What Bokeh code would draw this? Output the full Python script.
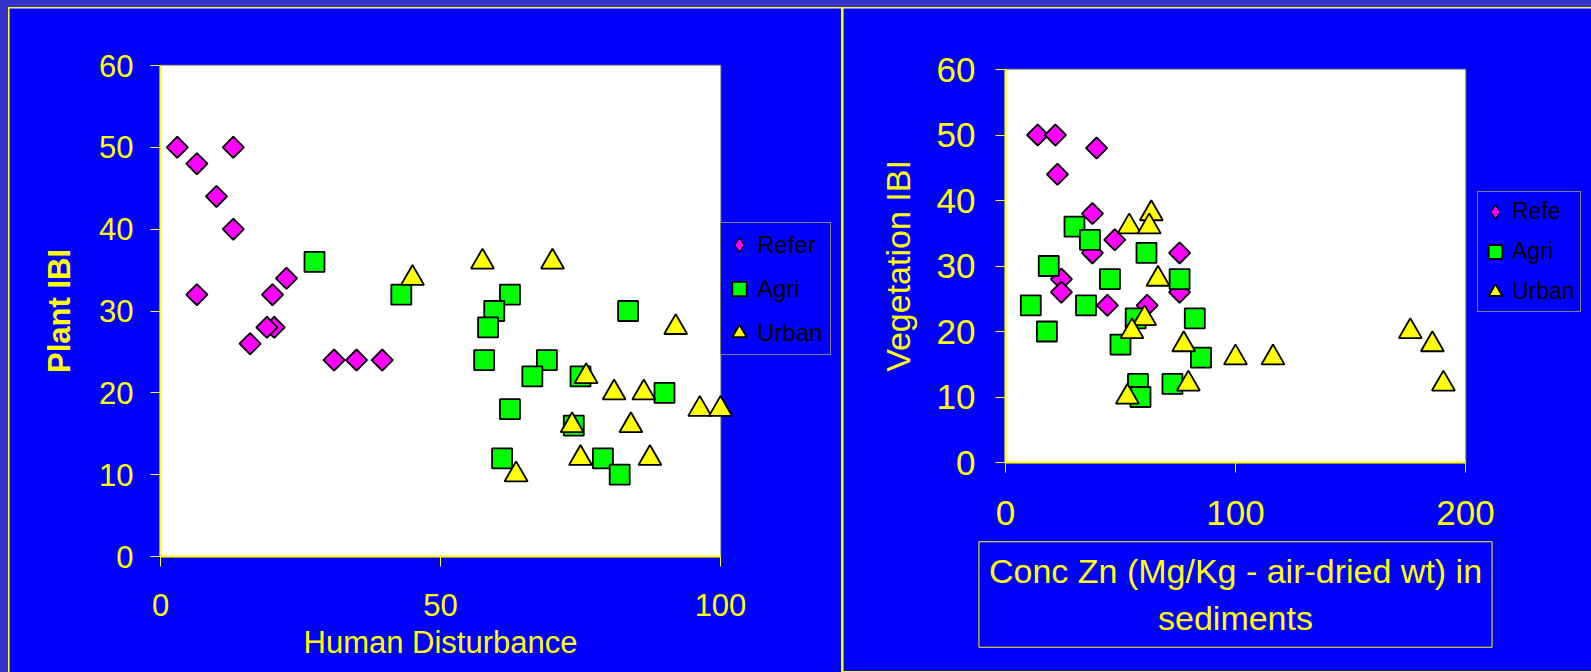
import numpy as np
from bokeh.plotting import figure
from bokeh.models import (Range1d, FixedTicker, Legend, LegendItem, Label, Spacer,
                          BoxAnnotation, LinearAxis)
from bokeh.layouts import row, column
from bokeh.embed import file_html
from bokeh.resources import INLINE

# ---------------- data ----------------
# Left panel: Plant IBI vs Human Disturbance
refer_x1 = [3, 13, 6.5, 10, 13, 6.5, 22.5, 20, 20.3, 19, 16, 31, 35, 39.6]
refer_y1 = [50, 50, 48, 44, 40, 32, 34, 32, 28, 28, 26, 24, 24, 24]
agri_x1 = [27.5, 43, 62.4, 59.6, 58.5, 57.8, 69, 66.4, 62.4, 61, 83.5, 75, 90, 73.8, 79, 82]
agri_y1 = [36, 32, 32, 30, 28, 24, 24, 22, 18, 12, 30, 22, 20, 16, 12, 10]
urban_x1 = [45, 57.5, 70, 63.5, 92, 76, 81, 86.3, 96.3, 100, 73.5, 84, 75, 87.4]
urban_y1 = [34, 36, 36, 10, 28, 22, 20, 20, 18, 18, 16, 16, 12, 12]

# Right panel: Vegetation IBI vs Conc Zn
refer_x2 = [14, 21.7, 39.6, 22.6, 37.8, 47.5, 37.8, 75.7, 24.3, 24.3, 44.3, 61.6, 75.7]
refer_y2 = [50, 50, 48, 44, 38, 34, 32, 32, 28, 26, 24, 24, 26]
agri_x2 = [30, 36.7, 61.3, 18.8, 45.4, 75.7, 11, 35, 56.6, 82.3, 18, 50, 85, 57.6, 58.7, 72.6]
agri_y2 = [36, 34, 32, 30, 28, 28, 24, 24, 22, 22, 20, 18, 16, 12, 10, 12]
urban_x2 = [53.8, 63.4, 62.5, 66.3, 60.5, 55, 77.5, 100, 79.5, 53, 116.3, 176, 185.6, 190.4]
urban_y2 = [36, 38, 36, 28, 22, 20, 18, 16, 12, 10, 16, 20, 18, 12]

x_limits1 = (0, 100)
x_limits2 = (0, 200)
y_limits = (0, 60)
x_ticks1 = [0, 50, 100]
x_ticks2 = [0, 100, 200]
y_ticks = [0, 10, 20, 30, 40, 50, 60]

labels1 = ["Refer", "Agri", "Urban"]
labels2 = ["Refe", "Agri", "Urban"]

# ---------------- style ----------------
BLUE = "#0000FF"
FRAME = "#3333CC"
YELLOW = "#FFFF00"
MAGENTA = "#FF00FF"
GREEN = "#00FF00"
FONT = "Liberation Sans"


def make_fig(w, h, xlim, px0, px1, py_top, py_bot, xticks, tick_fs, xstand, ystand):
    """Figure whose frame fills the whole canvas; the plot area [xlim]x[ylim]
    maps onto the pixel box (px0..px1, py_top..py_bot)."""
    x0, x1 = xlim
    y0, y1 = y_limits
    sx = (px1 - px0) / (x1 - x0)
    sy = (py_bot - py_top) / (y1 - y0)
    xr = Range1d(x0 - px0 / sx, x1 + (w - px1) / sx)
    yr = Range1d(y0 - (h - py_bot) / sy, y1 + py_top / sy)
    p = figure(width=w, height=h, x_range=xr, y_range=yr,
               output_backend="svg", toolbar_location=None, title=None,
               x_axis_location=None, y_axis_location=None,
               min_border=0, min_border_left=0, min_border_right=0,
               min_border_top=0, min_border_bottom=0)
    p.background_fill_color = BLUE
    p.border_fill_color = BLUE
    p.outline_line_color = None
    p.grid.visible = False

    area = BoxAnnotation(left=x0, right=x1, bottom=y0, top=y1,
                         fill_color="white", fill_alpha=1.0,
                         line_color=YELLOW, line_width=2, level="underlay")
    p.add_layout(area)

    xa = LinearAxis(ticker=FixedTicker(ticks=xticks), fixed_location=y0, bounds=(x0, x1))
    ya = LinearAxis(ticker=FixedTicker(ticks=y_ticks), fixed_location=x0, bounds=(y0, y1))
    for ax, st in ((xa, xstand), (ya, ystand)):
        ax.axis_line_color = YELLOW
        ax.axis_line_width = 2
        ax.major_tick_line_color = YELLOW
        ax.major_tick_line_width = 1
        ax.major_tick_in = 0
        ax.major_tick_out = 10
        ax.minor_tick_line_color = None
        ax.major_label_text_color = YELLOW
        ax.major_label_text_font = FONT
        ax.major_label_text_font_size = tick_fs
        ax.major_label_standoff = st
        ax.axis_label_text_color = YELLOW
        ax.axis_label_text_font = FONT
        ax.axis_label_text_font_style = "normal"
    p.add_layout(xa, "below")
    p.add_layout(ya, "left")
    return p, xa, ya


def add_series(p, xs, ys):
    # legend-only diamond (tiny, hidden under the real diamonds)
    rl = p.scatter(xs[0], ys[0], marker="diamond", size=1,
                   fill_color=MAGENTA, line_color="black", line_width=1.2)
    r1 = p.scatter(xs[0], ys[0], marker="square", angle=np.pi / 4, size=15,
                   fill_color=MAGENTA, line_color="black", line_width=1.8)
    r2 = p.scatter(xs[1], ys[1], marker="square", size=20,
                   fill_color=GREEN, line_color="black", line_width=1.8)
    r3 = p.scatter(xs[2], ys[2], marker="triangle", size=23,
                   fill_color=YELLOW, line_color="black", line_width=1.8)
    return [rl, r2, r3]


# ---------------- left panel (page x 9..841, y 8..672) ----------------
p1, xa1, ya1 = make_fig(832, 664, x_limits1, 151, 711, 57, 548, x_ticks1, "31px", 27, 17)
xa1.axis_label = "Human Disturbance"
xa1.axis_label_text_font_size = "31px"
xa1.axis_label_standoff = 6
ya1.axis_label = "Plant IBI"
ya1.axis_label_text_font_size = "31px"
ya1.axis_label_text_font_style = "bold"
ya1.axis_label_standoff = 19
rs1 = add_series(p1, [refer_x1, agri_x1, urban_x1], [refer_y1, agri_y1, urban_y1])

leg1 = Legend(items=[LegendItem(label=l, renderers=[r]) for l, r in zip(labels1, rs1)],
              location=(711, 317), margin=0, padding=0, spacing=1,
              glyph_width=36, glyph_height=43, label_standoff=0, label_width=73,
              label_text_font=FONT, label_text_font_size="24px", label_text_color="black",
              background_fill_color=BLUE, background_fill_alpha=1.0,
              border_line_color=YELLOW, border_line_width=1)
p1.add_layout(leg1)

# ---------------- right panel (page x 843..1591, y 8..671) ----------------
p2, xa2, ya2 = make_fig(748, 663, x_limits2, 162, 622, 61, 454, x_ticks2, "35px", 28, 20)
ya2.axis_label = "Vegetation IBI"
ya2.axis_label_text_font_size = "34px"
ya2.axis_label_standoff = 17
rs2 = add_series(p2, [refer_x2, agri_x2, urban_x2], [refer_y2, agri_y2, urban_y2])

leg2 = Legend(items=[LegendItem(label=l, renderers=[r]) for l, r in zip(labels2, rs2)],
              location=(634, 359), margin=0, padding=0, spacing=1,
              glyph_width=34, glyph_height=39, label_standoff=0, label_width=68,
              label_text_font=FONT, label_text_font_size="23px", label_text_color="black",
              background_fill_color=BLUE, background_fill_alpha=1.0,
              border_line_color=YELLOW, border_line_width=1)
p2.add_layout(leg2)

xtitle2 = Label(x=392, y=77, x_units="screen", y_units="screen",
                text="Conc Zn (Mg/Kg - air-dried wt) in\nsediments",
                text_align="center", text_baseline="middle",
                text_font=FONT, text_font_size="34px", text_color=YELLOW,
                text_line_height=1.25, padding=10,
                border_line_color=YELLOW, border_line_width=1,
                background_fill_color=BLUE, background_fill_alpha=1.0)
p2.add_layout(xtitle2)


# ---------------- page frame ----------------
def band(w, h, color):
    return Spacer(width=w, height=h, styles={"background-color": color})


layout = column(
    band(1591, 7, FRAME),
    row(band(8, 665, FRAME),
        column(band(1583, 1, YELLOW),
               row(band(1, 664, YELLOW), p1, band(2, 664, YELLOW),
                   column(p2, band(748, 1, YELLOW)))))
)

open("out.html", "w").write(file_html(layout, INLINE))
